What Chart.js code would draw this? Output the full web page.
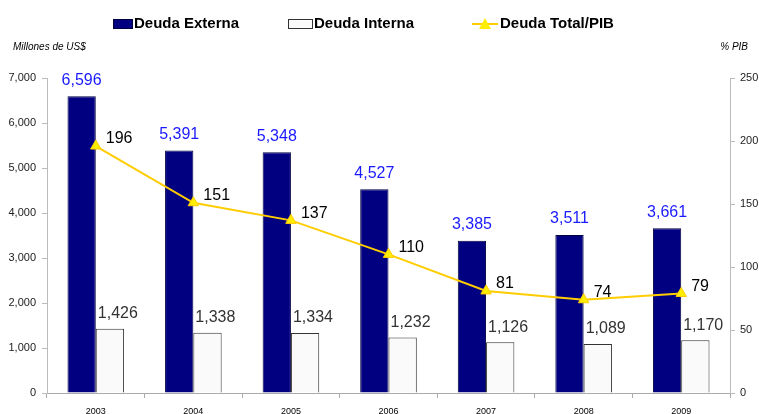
<!DOCTYPE html>
<html><head><meta charset="utf-8">
<script src="https://cdn.jsdelivr.net/npm/chart.js@4/dist/chart.umd.min.js"></script>
<style>html,body{margin:0;padding:0;background:#fff;}#wrap{width:759px;height:414px;position:relative;}</style>
</head><body><div id="wrap"><canvas id="c" width="759" height="414"></canvas></div>
<script>
const years = ['2003','2004','2005','2006','2007','2008','2009'];
const deudaExterna = [6596, 5391, 5348, 4527, 3385, 3511, 3661];
const deudaInterna = [1426, 1338, 1334, 1232, 1126, 1089, 1170];
const deudaTotalPIB = [196, 151, 137, 110, 81, 74, 79];
const leftTicks = [0, 1000, 2000, 3000, 4000, 5000, 6000, 7000];
const rightTicks = [0, 50, 100, 150, 200, 250];
const FONT = '"Liberation Sans", Arial, sans-serif';
const fmt = v => v.toLocaleString('en-US');

const labelsPlugin = {
  id: 'labelsPlugin',
  afterDatasetsDraw(chart) {
    const ctx = chart.ctx;
    ctx.save();
    // Deuda Externa labels
    const m0 = chart.getDatasetMeta(0);
    ctx.font = '16px ' + FONT; ctx.fillStyle = '#1a1aff';
    ctx.textAlign = 'center'; ctx.textBaseline = 'bottom';
    m0.data.forEach((el, i) => ctx.fillText(fmt(deudaExterna[i]), el.x, el.y - 8));
    // Deuda Interna labels
    const m1 = chart.getDatasetMeta(1);
    ctx.fillStyle = '#333333'; ctx.textAlign = 'left';
    m1.data.forEach((el, i) => ctx.fillText(fmt(deudaInterna[i]), el.x - el.width / 2 + 2, el.y - 7));
    // Line labels
    const m2 = chart.getDatasetMeta(2);
    ctx.fillStyle = '#000'; ctx.font = '16px ' + FONT; ctx.textAlign = 'left'; ctx.textBaseline = 'middle';
    m2.data.forEach((el, i) => ctx.fillText(String(deudaTotalPIB[i]), el.x + 10, el.y - 7));
    // Legend
    const ly = 24;
    ctx.textBaseline = 'middle'; ctx.font = 'bold 15px ' + FONT;
    ctx.fillStyle = '#000080'; ctx.fillRect(113, ly - 5, 20, 10);
    ctx.strokeStyle = '#000040'; ctx.lineWidth = 1; ctx.strokeRect(113.5, ly - 4.5, 19, 9);
    ctx.fillStyle = '#000'; ctx.fillText('Deuda Externa', 134, ly);
    ctx.fillStyle = '#fafafa'; ctx.fillRect(288, ly - 5, 25, 10);
    ctx.strokeStyle = '#333'; ctx.strokeRect(288.5, ly - 4.5, 24, 9);
    ctx.fillStyle = '#000'; ctx.fillText('Deuda Interna', 314, ly);
    ctx.strokeStyle = '#FFCC00'; ctx.lineWidth = 2;
    ctx.beginPath(); ctx.moveTo(472, ly); ctx.lineTo(498, ly); ctx.stroke();
    ctx.fillStyle = '#FFEE00'; ctx.beginPath();
    ctx.moveTo(485, ly - 6); ctx.lineTo(491, ly + 5); ctx.lineTo(479, ly + 5); ctx.closePath(); ctx.fill();
    ctx.fillStyle = '#000'; ctx.fillText('Deuda Total/PIB', 500, ly);
    // Axis titles
    ctx.font = 'italic 10px ' + FONT; ctx.fillStyle = '#000';
    ctx.textAlign = 'left'; ctx.fillText('Millones de US$', 13, 47);
    ctx.textAlign = 'right'; ctx.fillText('% PIB', 748, 47);
    ctx.restore();
  }
};

new Chart(document.getElementById('c'), {
  data: {
    labels: years,
    datasets: [
      { type: 'bar', label: 'Deuda Externa', data: deudaExterna, backgroundColor: '#000080', borderColor: '#000040', borderWidth: 1, yAxisID: 'y', order: 2, categoryPercentage: 0.58, barPercentage: 1.0 },
      { type: 'bar', label: 'Deuda Interna', data: deudaInterna, backgroundColor: '#fafafa', borderColor: '#333333', borderWidth: 1, yAxisID: 'y', order: 2, categoryPercentage: 0.58, barPercentage: 1.0 },
      { type: 'line', label: 'Deuda Total/PIB', data: deudaTotalPIB, borderColor: '#FFCC00', borderWidth: 2, pointStyle: 'triangle', pointRadius: 6, pointBackgroundColor: '#FFEE00', pointBorderColor: '#FFCC00', pointBorderWidth: 1, yAxisID: 'y1', order: 0, tension: 0 }
    ]
  },
  options: {
    responsive: false, animation: false, devicePixelRatio: 1,
    layout: { padding: { top: 78, left: 0, right: 0, bottom: 0 } },
    plugins: { legend: { display: false }, tooltip: { enabled: false } },
    scales: {
      x: {
        grid: { drawOnChartArea: false, offset: true, tickLength: 5, color: '#aaa' },
        border: { color: '#aaa' },
        ticks: { font: { size: 9, family: FONT }, color: '#000', padding: 8 },
        afterFit(s) { s.height = 21; }
      },
      y: {
        position: 'left', min: 0, max: 7000,
        afterBuildTicks(s) { s.ticks = leftTicks.map(v => ({ value: v })); },
        ticks: { font: { size: 11, family: FONT }, color: '#222', padding: 6, callback: v => fmt(v) },
        grid: { drawOnChartArea: false, tickLength: 5, color: '#bbb' },
        border: { color: '#bbb' },
        afterFit(s) { s.width = 47; }
      },
      y1: {
        position: 'right', min: 0, max: 250,
        afterBuildTicks(s) { s.ticks = rightTicks.map(v => ({ value: v })); },
        ticks: { font: { size: 11, family: FONT }, color: '#222', padding: 5 },
        grid: { drawOnChartArea: false, tickLength: 5, color: '#bbb' },
        border: { color: '#bbb' },
        afterFit(s) { s.width = 29; }
      }
    }
  },
  plugins: [labelsPlugin]
});
</script></body></html>
